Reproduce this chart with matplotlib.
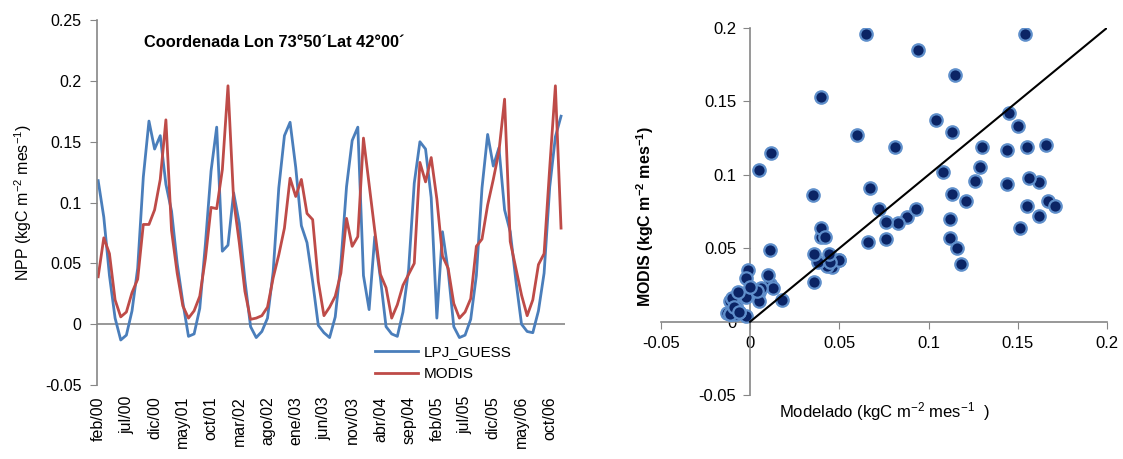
import matplotlib
matplotlib.use("Agg")
import matplotlib.pyplot as plt
from matplotlib.ticker import FuncFormatter

plt.rcParams['font.family'] = ['Liberation Sans', 'DejaVu Sans']
plt.rcParams['axes.unicode_minus'] = False
plt.rcParams['mathtext.fontset'] = 'custom'
plt.rcParams['mathtext.rm'] = 'Liberation Sans'
plt.rcParams['mathtext.bf'] = 'Liberation Sans:bold'
plt.rcParams['mathtext.default'] = 'regular'

# monthly NPP, feb/2000 .. dic/2006
lpj_guess = [0.118, 0.088, 0.040, 0.005, -0.013, -0.009, 0.011, 0.046, 0.121, 0.167,
             0.144, 0.155, 0.115, 0.093, 0.050, 0.018, -0.010, -0.008, 0.013, 0.066,
             0.126, 0.162, 0.060, 0.065, 0.108, 0.083, 0.036, -0.002, -0.011, -0.006,
             0.005, 0.043, 0.112, 0.155, 0.166, 0.129, 0.081, 0.067, 0.035, -0.001,
             -0.007, -0.011, 0.006, 0.050, 0.113, 0.151, 0.162, 0.040, 0.012, 0.072,
             0.038, -0.002, -0.008, -0.010, 0.010, 0.045, 0.116, 0.150, 0.144, 0.104,
             0.005, 0.076, 0.044, -0.002, -0.011, -0.009, 0.004, 0.040, 0.112, 0.156,
             0.130, 0.145, 0.094, 0.076, 0.036, 0.000, -0.006, -0.007, 0.011, 0.042,
             0.113, 0.154, 0.171]
modis = [0.039, 0.071, 0.058, 0.020, 0.006, 0.010, 0.026, 0.037, 0.082, 0.082,
         0.094, 0.119, 0.168, 0.077, 0.042, 0.015, 0.005, 0.011, 0.023, 0.054,
         0.096, 0.095, 0.127, 0.196, 0.102, 0.067, 0.027, 0.004, 0.005, 0.007,
         0.014, 0.038, 0.057, 0.079, 0.120, 0.105, 0.119, 0.091, 0.086, 0.035,
         0.007, 0.014, 0.023, 0.042, 0.087, 0.064, 0.072, 0.153, 0.115, 0.077,
         0.041, 0.030, 0.005, 0.016, 0.032, 0.041, 0.050, 0.133, 0.117, 0.137,
         0.103, 0.056, 0.046, 0.017, 0.005, 0.010, 0.021, 0.064, 0.070, 0.098,
         0.119, 0.142, 0.185, 0.068, 0.046, 0.024, 0.007, 0.020, 0.049, 0.058,
         0.129, 0.196, 0.079]
month_labels = ["feb/00", "jul/00", "dic/00", "may/01", "oct/01", "mar/02", "ago/02",
                "ene/03", "jun/03", "nov/03", "abr/04", "sep/04", "feb/05", "jul/05",
                "dic/05", "may/06", "oct/06"]
label_step = 5

blue = "#4A7EBB"
red = "#BE4B48"
grey = "#868686"
fmt = FuncFormatter(lambda v, p: "%g" % round(v, 3))

fig = plt.figure(figsize=(11.23, 4.59), dpi=100)

# ---- time series
ax1 = fig.add_axes([0.0864, 0.1612, 0.4167, 0.795])
x = list(range(len(lpj_guess)))
ax1.plot(x, lpj_guess, color=blue, lw=2.0, label="LPJ_GUESS")
ax1.plot(x, modis, color=red, lw=2.0, label="MODIS")
ax1.axhline(0, color=grey, lw=1.2, zorder=0)
ax1.set_xlim(-0.2, len(x) - 0.3)
ax1.set_ylim(-0.05, 0.25)
ax1.set_yticks([-0.05, 0, 0.05, 0.1, 0.15, 0.2, 0.25])
ax1.yaxis.set_major_formatter(fmt)
ax1.set_xticks(x[::label_step][:len(month_labels)])
ax1.set_xticklabels(month_labels, rotation=90)
for s in ["top", "right", "bottom"]:
    ax1.spines[s].set_visible(False)
ax1.spines["left"].set_color(grey)
ax1.spines["left"].set_linewidth(1.2)
ax1.tick_params(axis="y", direction="out", length=5, color=grey, labelsize=11.5, pad=6)
ax1.tick_params(axis="x", length=0, labelsize=11.5, pad=8)
ax1.set_ylabel("NPP (kgC m$^{-2}$ mes$^{-1}$)", fontsize=11.5, labelpad=8)
ax1.text(0.1, 0.925, "Coordenada Lon 73°50´Lat 42°00´", transform=ax1.transAxes,
         fontsize=11.8, fontweight="bold")
ax1.legend(loc="lower left", bbox_to_anchor=(0.575, -0.015), frameon=False, fontsize=11,
           handlelength=2.8, handletextpad=0.4, labelspacing=0.55, borderaxespad=0.2)

# ---- scatter
ax2 = fig.add_axes([0.5884, 0.1388, 0.3974, 0.8006])
ax2.scatter(lpj_guess, modis, s=80, facecolor="#0B2465", edgecolor="#5F8FCB",
            linewidth=1.6, zorder=3)
ax2.plot([0, 0.2], [0, 0.2], color="black", lw=1.5, zorder=4)
ax2.set_xlim(-0.05, 0.2)
ax2.set_ylim(-0.05, 0.2)
ax2.set_xticks([-0.05, 0, 0.05, 0.1, 0.15, 0.2])
ax2.set_yticks([-0.05, 0, 0.05, 0.1, 0.15, 0.2])
ax2.xaxis.set_major_formatter(fmt)
ax2.yaxis.set_major_formatter(fmt)
ax2.spines["left"].set_position(("data", 0))
ax2.spines["bottom"].set_position(("data", 0))
for s in ["top", "right"]:
    ax2.spines[s].set_visible(False)
for s in ["left", "bottom"]:
    ax2.spines[s].set_color(grey)
    ax2.spines[s].set_linewidth(1.2)
ax2.tick_params(direction="out", length=5, color=grey, labelsize=12, pad=5)
ax2.text(-0.034, 0.485, r"MODIS (kgC m$^{\mathbf{-2}}$ mes$^{\mathbf{-1}}$)",
         transform=ax2.transAxes, rotation=90, ha="center", va="center",
         fontsize=11.5, fontweight="bold")
ax2.text(0.5, -0.045, "Modelado (kgC m$^{-2}$ mes$^{-1}$  )", transform=ax2.transAxes,
         ha="center", va="center", fontsize=12)

fig.savefig("out.png", dpi=100)
